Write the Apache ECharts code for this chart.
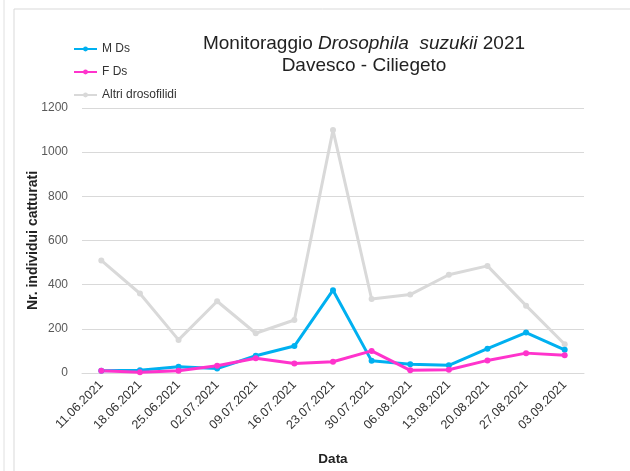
<!DOCTYPE html>
<html>
<head>
<meta charset="utf-8">
<script src="https://cdn.jsdelivr.net/npm/echarts@6/dist/echarts.min.js"></script>
<style>
  html, body { margin: 0; padding: 0; background: #fff; }
  #chart { width: 630px; height: 471px; }
</style>
</head>
<body>
<div id="chart"></div>
<script>
const dates = ["11.06.2021", "18.06.2021", "25.06.2021", "02.07.2021", "09.07.2021", "16.07.2021",
  "23.07.2021", "30.07.2021", "06.08.2021", "13.08.2021", "20.08.2021", "27.08.2021", "03.09.2021"];
const maschi = [10, 12, 28, 20, 78, 122, 375, 55, 40, 35, 110, 183, 105];
const femmine = [10, 3, 10, 33, 67, 43, 51, 100, 12, 15, 57, 90, 80];
const altri = [510, 360, 150, 325, 180, 240, 1100, 335, 355, 445, 485, 305, 130];

const chart = echarts.init(document.getElementById("chart"));

const serie = (name, data, color) => ({
  name: name,
  type: "line",
  data: data,
  symbol: "circle",
  symbolSize: 6,
  lineStyle: { width: 3, color: color },
  itemStyle: { color: color },
  z: name == "Altri drosofilidi" ? 1 : 2
});

chart.setOption({
  animation: false,
  textStyle: { fontFamily: "Liberation Sans, Arial, sans-serif" },
  graphic: [
    { type: "rect", shape: { x: 14, y: 9, width: 640, height: 480 }, style: { fill: "none", stroke: "#d9d9d9", lineWidth: 1 } },
    { type: "line", shape: { x1: 4, y1: 0, x2: 4, y2: 471 }, style: { stroke: "#e0e0e0", lineWidth: 1 } }
  ],
  title: {
    text: "{n|Monitoraggio }{i|Drosophila  suzukii}{n| 2021}\n{n|Davesco - Ciliegeto}",
    left: 359,
    top: 28,
    textAlign: "center",
    textStyle: {
      rich: {
        n: { fontSize: 19, color: "#222", fontWeight: "normal", lineHeight: 22 },
        i: { fontSize: 19, color: "#222", fontWeight: "normal", fontStyle: "italic", lineHeight: 22 }
      }
    }
  },
  legend: {
    orient: "vertical",
    left: 73,
    top: 43,
    padding: 0,
    itemWidth: 23,
    itemHeight: 6,
    itemGap: 11,
    textStyle: { fontSize: 12, color: "#333" },
    data: ["M Ds", "F Ds", "Altri drosofilidi"]
  },
  grid: { left: 82, right: 46, top: 108, bottom: 96 },
  xAxis: {
    type: "category",
    data: dates,
    name: "Data",
    nameLocation: "middle",
    nameGap: 79,
    nameTextStyle: { fontSize: 13.5, fontWeight: "bold", color: "#222" },
    axisLine: { lineStyle: { color: "#d9d9d9" } },
    axisTick: { show: false },
    axisLabel: { rotate: 45, fontSize: 12.5, color: "#333", interval: 0, margin: 10 }
  },
  yAxis: {
    type: "value",
    min: 0,
    max: 1200,
    interval: 200,
    name: "Nr. individui catturati",
    nameLocation: "middle",
    nameMoveOverlap: false,
    nameGap: 42,
    nameTextStyle: { fontSize: 14, fontWeight: "bold", color: "#222" },
    axisLabel: { fontSize: 12, color: "#595959", margin: 14, formatter: (v) => String(v) },
    splitLine: { lineStyle: { color: "#d9d9d9" } }
  },
  series: [
    serie("M Ds", maschi, "#00b0f0"),
    serie("F Ds", femmine, "#ff33cc"),
    serie("Altri drosofilidi", altri, "#d9d9d9")
  ]
});
</script>
</body>
</html>
